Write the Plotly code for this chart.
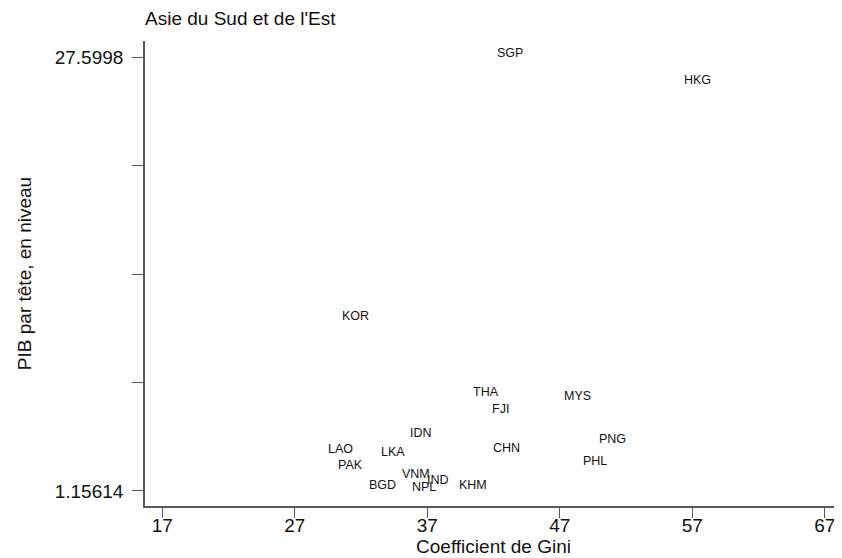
import plotly.graph_objects as go

# Country codes (marker labels)
countries = ["SGP", "HKG", "KOR", "THA", "MYS", "FJI", "IDN", "PNG", "CHN",
             "LAO", "LKA", "PHL", "PAK", "VNM", "IND", "BGD", "KHM", "NPL"]
# Gini coefficient
gini = [43.24, 57.43, 31.60, 41.43, 48.37, 42.49, 36.51, 50.94, 42.99,
        30.45, 34.40, 49.62, 31.19, 36.18, 37.82, 33.63, 40.47, 36.74]
# GDP per capita, level
gdp = [27.5998, 25.93, 11.60, 6.96, 6.72, 5.91, 4.42, 4.08, 3.53,
       3.47, 3.26, 2.75, 2.49, 1.94, 1.60, 1.29, 1.29, 1.15614]

x_ticks = [17, 27, 37, 47, 57, 67]
y_min, y_max = 1.15614, 27.5998
y_ticks = [y_min + k * (y_max - y_min) / 4 for k in range(5)]
y_ticklabels = ["1.15614", "", "", "", "27.5998"]

FONT = "Liberation Sans, Arial, Helvetica, sans-serif"
TXT = "#111111"
AX = "#5a5a5a"

# the page body has an 8px default margin: figure is sized to fit the window
W, H, OFF = 834, 550, 8

fig = go.Figure()
fig.add_trace(go.Scatter(
    x=gini, y=gdp, mode="markers", text=countries,
    marker=dict(size=6, opacity=0), hoverinfo="text+x+y", showlegend=False,
))

for c, gx, gy in zip(countries, gini, gdp):
    fig.add_annotation(x=gx, y=gy, text=c, showarrow=False, yshift=4,
                       font=dict(family=FONT, size=12.5, color=TXT),
                       xanchor="center", yanchor="middle")

fig.update_layout(
    width=W, height=H,
    margin=dict(l=145 - OFF, r=0, t=41 - OFF, b=52, pad=0),
    paper_bgcolor="white", plot_bgcolor="white",
    font=dict(family=FONT, size=19, color=TXT),
    title=dict(text="Asie du Sud et de l'Est", x=(145 - OFF) / W, xanchor="left",
               xref="container", yref="container", y=1 - (18.5 - OFF) / H, yanchor="middle",
               font=dict(family=FONT, size=19, color=TXT)),
    showlegend=False,
)

fig.update_xaxes(
    range=[15.69, 68.3], tickvals=x_ticks, ticktext=[str(v) for v in x_ticks],
    ticks="outside", ticklen=10, tickwidth=1.2, tickcolor=AX,
    showline=True, linecolor=AX, linewidth=1.6, showgrid=False, zeroline=False,
    tickfont=dict(family=FONT, size=19, color=TXT), ticklabelstandoff=-9,
    title=dict(text="Coefficient de Gini", standoff=2,
               font=dict(family=FONT, size=19, color=TXT)),
)
fig.update_yaxes(
    range=[0.2415, 28.575], tickvals=y_ticks, ticktext=y_ticklabels,
    ticks="outside", ticklen=11, tickwidth=1.2, tickcolor=AX,
    showline=True, linecolor=AX, linewidth=1.6, showgrid=False, zeroline=False,
    tickfont=dict(family=FONT, size=19, color=TXT), ticklabelstandoff=5,
    title=dict(text="PIB par tête, en niveau", standoff=18,
               font=dict(family=FONT, size=19, color=TXT)),
)

fig.write_html("out.html")
